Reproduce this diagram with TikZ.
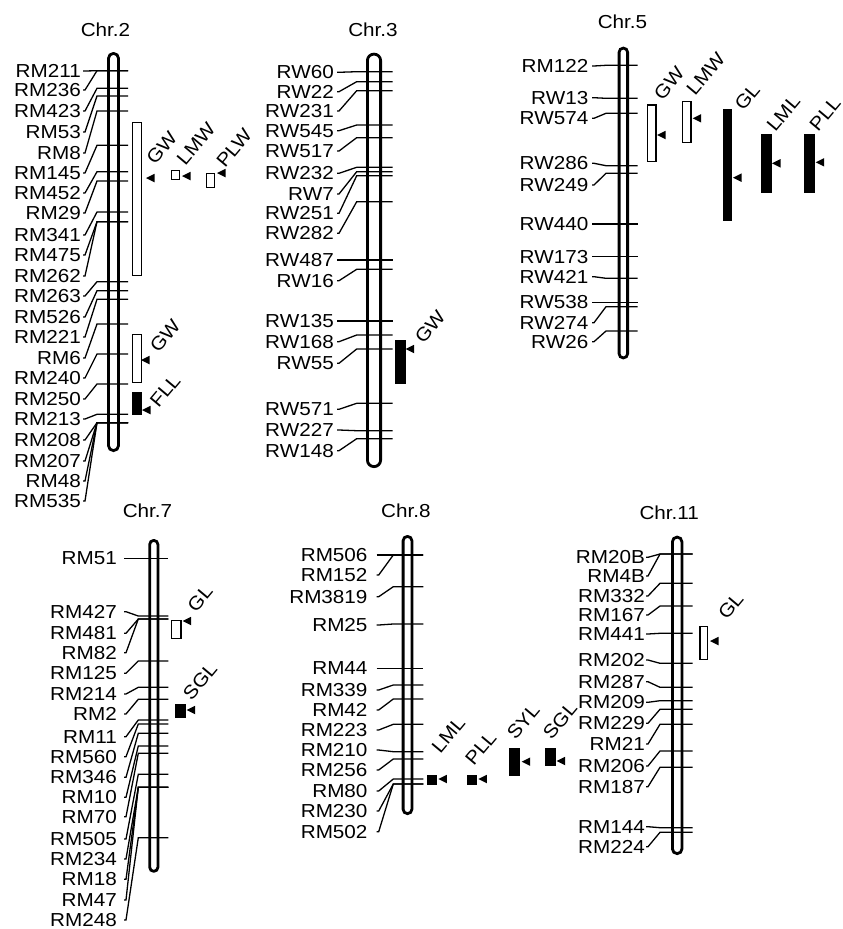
\documentclass[tikz,border=0pt]{standalone}
\usepackage{fontspec}
\setmainfont{Liberation Sans}[FakeStretch=1.1]
\newcommand\qtlarrow[1]{\fill (#1) -- ++(8.5,-4.25) -- ++(0,8.5) -- cycle;}
\begin{document}
\begin{tikzpicture}[x=1pt, y=-1pt, font=\fontsize{18.8}{20}\selectfont,
    chrom/.style={line width=2.8pt, rounded corners=#1},
    mk/.style={anchor=east, inner xsep=#1, inner ysep=0pt},
    wire/.style={line width=1.3pt},
    qtl/.style={rotate=50, inner sep=0pt},
    openbox/.style={draw, line width=1.3pt, fill=white},
    fullbox/.style={fill=black}]
\useasboundingbox (0,0) rectangle (843,929);

% Chr.2
\node (t2) at (105.5,29.3) {Chr.2};
\draw[chrom=4.9pt] (108.5,53.4) rectangle (118.5,450.6);
\foreach \lab/\ly/\ty [count=\i] in {RM211/71/70.7, RM236/90/70.7, RM423/111/88.3,
    RM53/132/96, RM8/153/111, RM145/173/145.3, RM452/193/171.7, RM29/213/181,
    RM341/235/212, RM475/255/221.7, RM262/276/221.7, RM263/296/281.7,
    RM526/317/290.7, RM221/337/299.3, RM6/358/324, RM240/378/354, RM250/399/384,
    RM213/419/414.3, RM208/440/422.7, RM207/461/422.7, RM48/481/422.7, RM535/501/422.7}{
  \node[mk=2pt] (c2m\i) at (83,\ly) {\lab};
  \coordinate (c2k\i) at (97,\ty);
  \coordinate (c2e\i) at (128,\ty);
  \draw[wire] (c2m\i.east) -- ++(2,0) -- (c2k\i) -- (c2e\i);
}
\draw[openbox] (132.7,122.7) rectangle (141.3,275.3);
\qtlarrow{146,178}
\node[qtl] (q2a) at (161.7,148) {GW};
\draw[openbox] (171.6,170.6) rectangle (179.4,179.4);
\qtlarrow{182,176}
\node[qtl] (q2b) at (196,144) {LMW};
\draw[openbox] (206.6,173.6) rectangle (214.4,187.4);
\qtlarrow{217,173}
\node[qtl] (q2c) at (234,148) {PLW};
\draw[openbox] (132.7,334.7) rectangle (141.3,382.3);
\qtlarrow{141,360}
\node[qtl] (q2d) at (165,336) {GW};
\fill[fullbox] (132,392) rectangle (142,415);
\qtlarrow{142,410}
\node[qtl] (q2e) at (165,390.7) {FLL};

% Chr.3
\node (t3) at (373,29.3) {Chr.3};
\draw[chrom=6.5pt] (367.4,54.1) rectangle (380.6,466.6);
\foreach \lab/\ly/\ty [count=\i] in {RW60/72.3/71.7, RW22/91.7/81.7, RW231/111/90.7,
    RW545/130.7/125, RW517/151/137.7, RW232/173.3/167.3, RW7/194/171.7,
    RW251/213.3/175.7, RW282/233.3/201.7, RW487/260/260, RW16/280.7/269.3,
    RW135/321/321, RW168/341.7/335, RW55/363.3/349, RW571/409.3/403.3,
    RW227/430/430.7, RW148/450.7/438.7}{
  \node[mk=3pt] (c3m\i) at (337,\ly) {\lab};
  \coordinate (c3k\i) at (356.7,\ty);
  \coordinate (c3e\i) at (392.7,\ty);
  \draw[wire] (c3m\i.east) -- ++(2,0) -- (c3k\i) -- (c3e\i);
}
\fill[fullbox] (395,340) rectangle (405.7,384.3);
\qtlarrow{405.7,349}
\node[qtl] (q3a) at (430,326.7) {GW};

% Chr.5
\node (t5) at (622.5,21.7) {Chr.5};
\draw[chrom=4.15pt] (619.1,48.1) rectangle (627.6,357.9);
\foreach \lab/\ly/\ty [count=\i] in {RM122/66/65.3, RW13/97.7/98.3, RW574/118.3/113.3,
    RW286/163.3/165.7, RW249/185/173.3, RW440/224/224, RW173/256.7/256.7,
    RW421/276.7/278.3, RW538/302.3/302.3, RW274/322.7/306.7, RW26/341.7/331}{
  \node[mk=3.5pt] (c5m\i) at (592,\ly) {\lab};
  \coordinate (c5k\i) at (606,\ty);
  \coordinate (c5e\i) at (637.7,\ty);
  \draw[wire] (c5m\i.east) -- ++(2,0) -- (c5k\i) -- (c5e\i);
}
\draw[openbox] (647.3,105) rectangle (656,161.6);
\qtlarrow{657,135}
\node[qtl] (q5a) at (669,83.3) {GW};
\draw[openbox] (682.3,101.7) rectangle (691,142.6);
\qtlarrow{692.7,118.3}
\node[qtl] (q5b) at (705.7,74) {LMW};
\fill[fullbox] (722.7,109) rectangle (732.3,220.7);
\qtlarrow{733,177.7}
\node[qtl] (q5c) at (747.3,96.7) {GL};
\fill[fullbox] (761,134) rectangle (771.7,192.7);
\qtlarrow{772,163.3}
\node[qtl] (q5d) at (783.3,113.3) {LML};
\fill[fullbox] (804,134) rectangle (815,192.7);
\qtlarrow{815.7,162.3}
\node[qtl] (q5e) at (825,114) {PLL};

% Chr.7
\node (t7) at (147.5,510.5) {Chr.7};
\draw[chrom=4pt] (149.7,540.4) rectangle (157.9,871.3);
\foreach \lab/\ly/\ty [count=\i] in {RM51/558.3/558.3, RM427/611.7/616, RM481/633.3/619,
    RM82/652.7/619, RM125/673.3/661, RM214/694/687.3, RM2/714/699.3, RM11/736.7/720,
    RM560/756.7/724, RM346/777.3/733.3, RM10/797.3/746, RM70/816.7/753.3,
    RM505/839/774.3, RM234/859/787.3, RM18/879.3/787.3, RM47/900/787.3, RM248/920/837.7}{
  \node[mk=7pt] (c7m\i) at (124,\ly) {\lab};
  \coordinate (c7k\i) at (138.3,\ty);
  \coordinate (c7e\i) at (168.3,\ty);
  \draw[wire] (c7m\i.east) -- ++(2,0) -- (c7k\i) -- (c7e\i);
}
\draw[openbox] (171.3,620.7) rectangle (181,638.3);
\qtlarrow{182.7,621}
\node[qtl] (q7a) at (200,598.3) {GL};
\fill[fullbox] (175,704) rectangle (186,718.3);
\qtlarrow{186.7,710}
\node[qtl] (q7b) at (200,681) {SGL};

% Chr.8
\node (t8) at (405.8,510.5) {Chr.8};
\draw[chrom=4.3pt] (403.1,536.4) rectangle (411.9,813.6);
\foreach \lab/\ly/\ty [count=\i] in {RM506/555/555, RM152/575/555, RM3819/596.7/586.7,
    RM25/625/624, RM44/668.3/668.3, RM339/690/685, RM42/710/699, RM223/730/724.3,
    RM210/750/751.7, RM256/770/759, RM80/791/779, RM230/811/784, RM502/831.7/784}{
  \node[mk=9pt] (c8m\i) at (376.7,\ly) {\lab};
  \coordinate (c8k\i) at (393.3,\ty);
  \coordinate (c8e\i) at (423.3,\ty);
  \draw[wire] (c8m\i.east) -- ++(2,0) -- (c8k\i) -- (c8e\i);
}
\fill[fullbox] (426.7,775) rectangle (436.7,785);
\qtlarrow{438.3,779}
\node[qtl] (q8a) at (448.3,735) {LML};
\fill[fullbox] (466.7,775) rectangle (477.3,785);
\qtlarrow{478.3,779}
\node[qtl] (q8b) at (480.7,748.3) {PLL};
\fill[fullbox] (509.3,747.7) rectangle (520,775.7);
\qtlarrow{521.7,761.7}
\node[qtl] (q8c) at (523.3,721.7) {SYL};
\fill[fullbox] (545,747.7) rectangle (556,766);
\qtlarrow{556.7,761}
\node[qtl] (q8d) at (560,720.7) {SGL};

% Chr.11
\node (t11) at (669.2,512.5) {Chr.11};
\draw[chrom=4.65pt] (672.4,537.1) rectangle (681.9,853.6);
\foreach \lab/\ly/\ty [count=\i] in {RM20B/557.3/554, RM4B/576/554, RM332/596/583.3,
    RM167/615/606, RM441/634/633.3, RM202/660/663.3, RM287/681.7/687.3,
    RM209/702.3/700.7, RM229/723.3/709.3, RM21/744/724.3, RM206/766/751,
    RM187/786.7/767.3, RM144/826.7/827.7, RM224/846.7/832.3}{
  \node[mk=1pt] (c11m\i) at (646,\ly) {\lab};
  \coordinate (c11k\i) at (660,\ty);
  \coordinate (c11e\i) at (692.7,\ty);
  \draw[wire] (c11m\i.east) -- ++(2,0) -- (c11k\i) -- (c11e\i);
}
\draw[openbox] (700,626.7) rectangle (707.6,659.3);
\qtlarrow{710,641}
\node[qtl] (q11a) at (730.7,606) {GL};
\end{tikzpicture}
\end{document}
